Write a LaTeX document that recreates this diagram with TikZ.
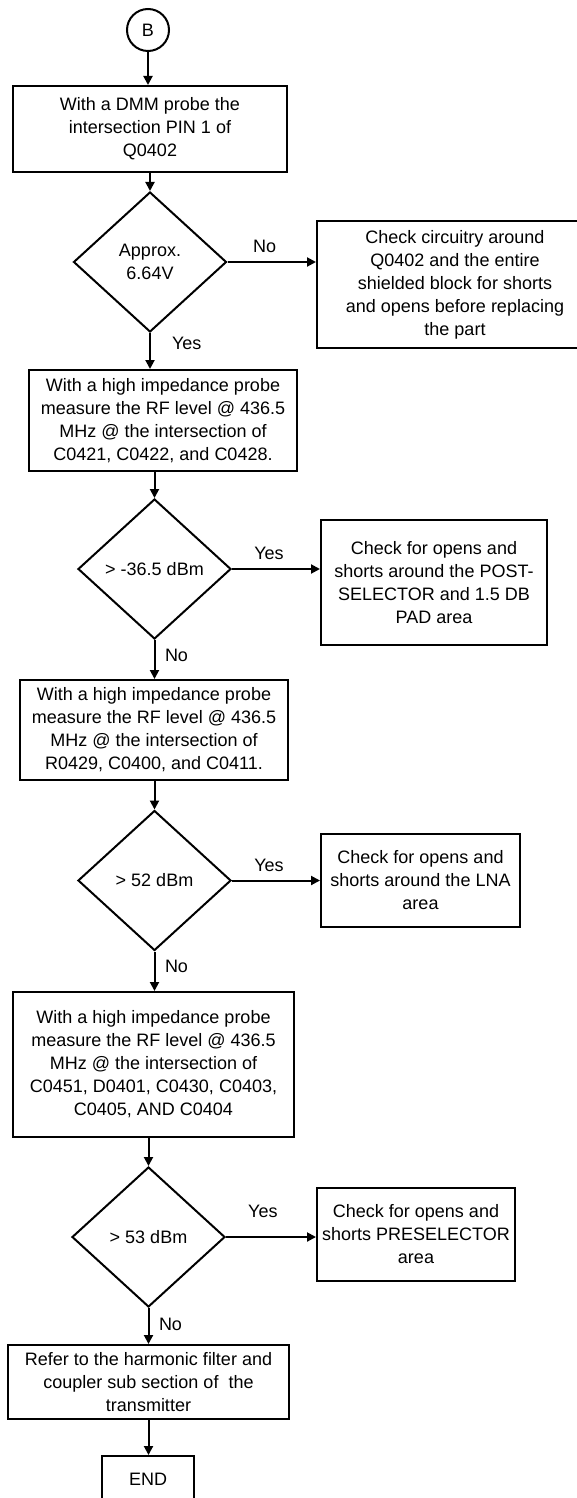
\documentclass[tikz,border=0pt]{standalone}
\usepackage{fontspec}
\setmainfont{Liberation Sans}
\usetikzlibrary{shapes.geometric,arrows.meta}

\tikzset{
  stepbox/.style={draw=black, line width=1pt, align=center, inner sep=2pt},
  decision/.style={draw=black, line width=1pt, diamond, align=center, inner sep=0pt,
    minimum width=76.5pt, minimum height=70pt},
  flow/.style={black, line width=1pt, -{Triangle[length=4.5pt,width=4.5pt]}},
  lbl/.style={inner sep=0pt},
}

\begin{document}
\begin{tikzpicture}[x=0.5pt, y=-0.5pt, font=\fontsize{9}{11.5}\selectfont]
  \useasboundingbox (0,0) rectangle (577,1498);

  \node[draw=black, line width=1pt, circle, minimum size=21pt, inner sep=0pt] (start) at (148,30) {B};
  \node[stepbox, minimum width=137pt, minimum height=43pt] (b1) at (150,129)
    {With a DMM probe the\\intersection PIN 1 of\\Q0402};
  \node[decision] (d1) at (150,262) {Approx.\\6.64V};
  \node[stepbox, minimum width=138pt, minimum height=63.5pt] (b2) at (455,284.5)
    {Check circuitry around\\Q0402 and the entire\\shielded block for shorts\\and opens before replacing\\the part};
  \node[stepbox, minimum width=134pt, minimum height=50.5pt] (b3) at (163,420.5)
    {With a high impedance probe\\measure the RF level @ 436.5\\MHz @ the intersection of\\C0421, C0422, and C0428.};
  \node[decision] (d2) at (154.5,569) {> -36.5 dBm};
  \node[stepbox, minimum width=113pt, minimum height=62.5pt] (b4) at (434,582.5)
    {Check for opens and\\shorts around the POST-\\SELECTOR and 1.5 DB\\PAD area};
  \node[stepbox, minimum width=134pt, minimum height=50pt] (b5) at (154,730)
    {With a high impedance probe\\measure the RF level @ 436.5\\MHz @ the intersection of\\R0429, C0400, and C0411.};
  \node[decision] (d3) at (154.5,880.5) {> 52 dBm};
  \node[stepbox, minimum width=99.5pt, minimum height=46.5pt] (b6) at (420.5,880.5)
    {Check for opens and\\shorts around the LNA\\area};
  \node[stepbox, minimum width=140.5pt, minimum height=72.5pt] (b7) at (153.5,1064.5)
    {With a high impedance probe\\measure the RF level @ 436.5\\MHz @ the intersection of\\C0451, D0401, C0430, C0403,\\C0405, AND C0404};
  \node[decision] (d4) at (148.5,1237) {> 53 dBm};
  \node[stepbox, minimum width=99pt, minimum height=46.5pt] (b8) at (416,1234.5)
    {Check for opens and\\shorts PRESELECTOR\\area};
  \node[stepbox, minimum width=140.5pt, minimum height=37pt] (b9) at (148.5,1382)
    {Refer to the harmonic filter and\\coupler sub section of\ \ the\\transmitter};
  \node[stepbox, minimum width=46pt, minimum height=23pt] (end) at (148,1479) {END};

  \draw[flow] (start) -- (start |- b1.north);
  \draw[flow] (b1) -- (d1);
  \draw[flow] (d1.east) -- (d1.east -| b2.west) node[lbl, above=4.3pt, pos=0.42] {No};
  \draw[flow] (d1.south) -- (d1.south |- b3.north) node[lbl, right=10.5pt, pos=0.29] {Yes};
  \draw[flow] (d2.north |- b3.south) -- (d2.north);
  \draw[flow] (d2.east) -- (d2.east -| b4.west) node[lbl, above=4.3pt, pos=0.42] {Yes};
  \draw[flow] (d2.south) -- (d2.south |- b5.north) node[lbl, right=4.75pt, pos=0.39] {No};
  \draw[flow] (d3.north |- b5.south) -- (d3.north);
  \draw[flow] (d3.east) -- (d3.east -| b6.west) node[lbl, above=4pt, pos=0.42] {Yes};
  \draw[flow] (d3.south) -- (d3.south |- b7.north) node[lbl, right=4.75pt, pos=0.37] {No};
  \draw[flow] (d4.north |- b7.south) -- (d4.north);
  \draw[flow] (d4.east) -- (d4.east -| b8.west) node[lbl, above=9.3pt, pos=0.41] {Yes};
  \draw[flow] (d4.south) -- (d4.south |- b9.north) node[lbl, right=4.75pt, pos=0.45] {No};
  \draw[flow] (b9.south) -- (b9.south |- end.north);
\end{tikzpicture}
\end{document}
